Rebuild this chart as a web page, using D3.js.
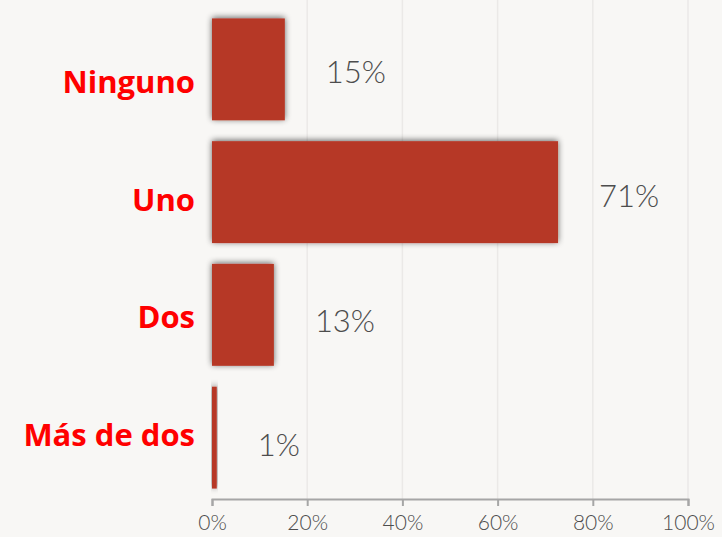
<!DOCTYPE html>
<html>
<head>
<meta charset="utf-8">
<script src="https://cdn.jsdelivr.net/npm/d3@7"></script>
<style>
  body { margin: 0; background: #f8f7f5; }
  svg { display: block; }
</style>
</head>
<body>
<div id="chart"></div>
<script>
// data
var categories = ["Ninguno", "Uno", "Dos", "Más de dos"];
var values = [15.3, 72.7, 13, 1];
var valueLabels = ["15%", "71%", "13%", "1%"];
var ticks = [0, 20, 40, 60, 80, 100];

var width = 722, height = 537;

var svg = d3.select('#chart').append('svg')
  .attr('width', width)
  .attr('height', height);

svg.append('rect').attr('width', width).attr('height', height).attr('fill', '#f8f7f5');

// shadow for bars
var defs = svg.append('defs');
var f = defs.append('filter').attr('id', 'shadow')
  .attr('x', '-20%').attr('y', '-20%').attr('width', '140%').attr('height', '140%');
f.append('feGaussianBlur').attr('in', 'SourceAlpha').attr('stdDeviation', 3);
f.append('feOffset').attr('dx', 0).attr('dy', -1).attr('result', 'blur');
f.append('feComponentTransfer').append('feFuncA').attr('type', 'linear').attr('slope', 0.6);
var m = f.append('feMerge');
m.append('feMergeNode');
m.append('feMergeNode').attr('in', 'SourceGraphic');

var x = d3.scaleLinear().domain([0, 100]).range([212, 688]);
var y = d3.scaleBand().domain(categories).range([8, 499]).paddingInner(0.17).paddingOuter(0.085);
// label rows sit a bit off the bar centres in the original
var yCat = d3.scalePoint().domain(categories).range([82, 435]);
var yVal = d3.scalePoint().domain(categories).range([72, 445]);

// gridlines
svg.append('g').selectAll('line')
  .data(ticks.slice(1))
  .join('line')
  .attr('x1', function(d) { return x(d); })
  .attr('x2', function(d) { return x(d); })
  .attr('y1', 0)
  .attr('y2', 499)
  .attr('stroke', '#ebe9e7')
  .attr('stroke-width', 1.5);

// bars
svg.append('g').selectAll('rect')
  .data(values)
  .join('rect')
  .attr('x', x(0))
  .attr('y', function(d, i) { return y(categories[i]); })
  .attr('width', function(d) { return x(d) - x(0); })
  .attr('height', y.bandwidth())
  .attr('fill', '#b63825')
  .attr('filter', 'url(#shadow)');

// x axis
var axis = svg.append('g')
  .attr('transform', 'translate(0,499)')
  .call(d3.axisBottom(x).tickValues(ticks).tickSize(7).tickPadding(9).tickFormat(function(d) { return d + '%'; }));
axis.select('.domain').attr('stroke', '#a6a6a6').attr('stroke-width', 2);
axis.selectAll('.tick line').attr('stroke', '#a6a6a6').attr('stroke-width', 2);
axis.selectAll('.tick text')
  .attr('fill', '#4d4d4d')
  .style('font-family', 'Lato, sans-serif')
  .style('font-weight', 300)
  .style('font-size', '21px');

// category labels
svg.append('g').selectAll('text')
  .data(categories)
  .join('text')
  .attr('x', 195)
  .attr('y', function(d) { return yCat(d); })
  .attr('dy', '0.36em')
  .attr('text-anchor', 'end')
  .attr('fill', '#ff0000')
  .style('font-family', '"Open Sans", sans-serif')
  .style('font-weight', 'bold')
  .style('font-size', '31px')
  .text(function(d) { return d; });

// value labels
svg.append('g').selectAll('text')
  .data(values)
  .join('text')
  .attr('x', function(d) { return x(d) + 41; })
  .attr('y', function(d, i) { return yVal(categories[i]); })
  .attr('dy', '0.36em')
  .attr('fill', '#4d4d4d')
  .style('font-family', 'Lato, sans-serif')
  .style('font-weight', 300)
  .style('font-size', '31px')
  .text(function(d, i) { return valueLabels[i]; });
</script>
</body>
</html>
